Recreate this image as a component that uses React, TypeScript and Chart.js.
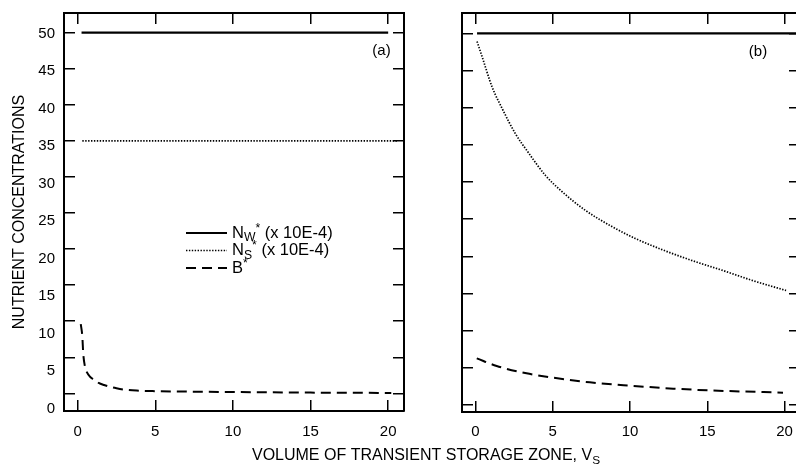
import React, { useEffect, useRef } from 'react';
import { Chart, registerables } from 'chart.js';

Chart.register(...registerables);

const FONT = '"Liberation Sans", Arial, Helvetica, sans-serif';

// ---- tick values ----
const X_TICKS = [0, 5, 10, 15, 20];
const Y_TICKS = [0, 5, 10, 15, 20, 25, 30, 35, 40, 45, 50];

// ---- series names ----
const SERIES = ['Nw* (x 10E-4)', 'Ns* (x 10E-4)', 'B*'];

// ---- panel (a) ----
const VS_A_NW = [0.25, 20.0];
const NW_A = [50, 50];
const VS_A_NS = [0.3, 20.6];
const NS_A = [35, 35];
const VS_A_B = [0.2, 0.3, 0.36, 0.47, 0.6, 0.8, 1.0, 1.35, 1.7, 2.0, 2.5, 3.0, 3.8, 5, 7, 10, 15, 20.2];
const B_A = [9.6, 7.9, 5.5, 3.7, 2.9, 2.3, 1.95, 1.45, 1.15, 0.95, 0.7, 0.52, 0.38, 0.3, 0.24, 0.18, 0.1, 0.05];

// ---- panel (b) ----
const VS_B_NW = [0.1, 21];
const NW_B = [50, 50];
const VS_B_NS = [0.1, 0.42, 1.07, 1.72, 2.58, 3.44, 4.52, 5.6, 7.1, 8.83, 10.34, 12.07, 14.2, 16.0, 18.0, 20.1];
const NS_B = [48.9, 46.9, 42.8, 39.9, 36.5, 33.9, 30.9, 28.7, 26.2, 24.0, 22.4, 20.9, 19.3, 18.1, 16.7, 15.4];
const VS_B_B = [0.08, 1.37, 3.3, 5.0, 7.4, 10.0, 12.8, 15.0, 19.9];
const B_B = [6.28, 5.25, 4.26, 3.68, 3.05, 2.6, 2.2, 1.98, 1.66];

// ---- texts ----
const Y_TITLE = 'NUTRIENT CONCENTRATIONS';
const X_TITLE: [string, string][] = [['VOLUME OF TRANSIENT STORAGE ZONE, V', ''], ['S', 'sub']];
const LEGEND_ITEMS: [string, string][][] = [
  [['N', ''], ['W', 'sub'], ['*', 'sup'], [' (x 10E-4)', '']],
  [['N', ''], ['S', 'sub'], ['*', 'sup'], [' (x 10E-4)', '']],
  [['B', ''], ['*', 'sup']],
];

// ---- axis ranges ----
const XA = [-0.88, 21.02];
const YA = [-2.45, 52.73];
const YA_LABELS = [-0.333, 52.733];
const XB = [-0.874, 21.0];
const YB = [-0.94, 52.73];

const pts = (xs: number[], ys: number[]) => xs.map((x, i) => ({ x, y: ys[i] }));

const STYLE_SOLID = { borderColor: '#000', borderWidth: 2.2, borderDash: [] as number[] };
const STYLE_DOT = { borderColor: '#000', borderWidth: 1.7, borderDash: [1.4, 1.5] };
const STYLE_DASH = { borderColor: '#000', borderWidth: 2, borderDash: [10, 6] };

function ds(label: string, xs: number[], ys: number[], style: any) {
  return {
    label,
    data: pts(xs, ys),
    ...style,
    pointRadius: 0,
    fill: false,
    cubicInterpolationMode: 'monotone',
    xAxisID: 'x',
    yAxisID: 'y',
  };
}

const fixSize = (size: number) => (s: any) => {
  if (s.isHorizontal()) s.height = size;
  else s.width = size;
  s.paddingTop = 0;
  s.paddingBottom = 0;
  s.paddingLeft = 0;
  s.paddingRight = 0;
};
const setTicks = (vals: number[]) => (s: any) => {
  s.ticks = vals.map((v) => ({ value: v }));
};

function frameAxis(position: string, range: number[], ticks: number[], size: number, showLabels: boolean, pad: number, weight = 0) {
  return {
    type: 'linear',
    position,
    weight,
    min: range[0],
    max: range[1],
    afterBuildTicks: setTicks(ticks),
    afterFit: fixSize(size),
    grid: { display: true, drawOnChartArea: false, drawTicks: true, tickLength: -11, color: '#000', lineWidth: 1.5 },
    border: { display: true, color: '#000', width: 2 },
    ticks: { display: showLabels, padding: pad, color: '#000', font: { size: 15, family: FONT }, maxRotation: 0, autoSkip: false },
  };
}

function drawRich(ctx: CanvasRenderingContext2D, x: number, y: number, parts: [string, string][], size: number, measureOnly = false) {
  let cx = x;
  for (const [t, kind] of parts) {
    const fs = kind ? size * 0.74 : size;
    ctx.font = `${fs}px ${FONT}`;
    const dy = kind === 'sub' ? size * 0.3 : kind === 'sup' ? -size * 0.28 : 0;
    if (!measureOnly) ctx.fillText(t, cx, y + dy);
    cx += ctx.measureText(t).width;
  }
  return cx - x;
}

const legendPlugin = {
  id: 'richLegend',
  afterDatasetsDraw(chart: any) {
    const ctx: CanvasRenderingContext2D = chart.ctx;
    const x0 = 186, y0 = 233, len = 41, gap = 5, rowH = 17.5, size = 16.5;
    ctx.save();
    LEGEND_ITEMS.forEach((parts, i) => {
      const d = chart.data.datasets[i];
      const y = y0 + i * rowH;
      ctx.beginPath();
      ctx.setLineDash(d.borderDash || []);
      ctx.lineWidth = d.borderWidth;
      ctx.strokeStyle = d.borderColor;
      ctx.moveTo(x0, y);
      ctx.lineTo(x0 + len, y);
      ctx.stroke();
      ctx.setLineDash([]);
      ctx.fillStyle = '#000';
      ctx.textAlign = 'left';
      ctx.textBaseline = 'middle';
      drawRich(ctx, x0 + len + gap, y, parts, size);
    });
    ctx.restore();
  },
};

const xTitlePlugin = {
  id: 'xTitle',
  afterDraw(chart: any) {
    const ctx: CanvasRenderingContext2D = chart.ctx;
    const size = 16;
    ctx.save();
    ctx.fillStyle = '#000';
    ctx.textAlign = 'left';
    ctx.textBaseline = 'middle';
    const w = drawRich(ctx, 0, 0, X_TITLE, size, true);
    drawRich(ctx, 426 - w / 2, 456, X_TITLE, size);
    ctx.restore();
  },
};

const panelLabel = (text: string, xv: number, yv: number) => ({
  id: 'panelLabel',
  afterDatasetsDraw(chart: any) {
    const ctx: CanvasRenderingContext2D = chart.ctx;
    ctx.save();
    ctx.font = `15px ${FONT}`;
    ctx.fillStyle = '#000';
    ctx.textAlign = 'center';
    ctx.textBaseline = 'middle';
    ctx.fillText(text, chart.scales.x.getPixelForValue(xv), chart.scales.y.getPixelForValue(yv));
    ctx.restore();
  },
});

const baseOptions = {
  responsive: false,
  maintainAspectRatio: false,
  devicePixelRatio: 1,
  animation: false,
  layout: { padding: 0 },
  plugins: { legend: { display: false }, tooltip: { enabled: false }, title: { display: false } },
};

function configA(): any {
  return {
    type: 'line',
    data: {
      datasets: [
        ds(SERIES[0], VS_A_NW, NW_A, STYLE_SOLID),
        ds(SERIES[1], VS_A_NS, NS_A, STYLE_DOT),
        ds(SERIES[2], VS_A_B, B_A, STYLE_DASH),
      ],
    },
    options: {
      ...baseOptions,
      scales: {
        x: frameAxis('bottom', XA, X_TICKS, 53, true, 23.2),
        x2: frameAxis('top', XA, X_TICKS, 13, false, 0),
        y: frameAxis('left', YA, Y_TICKS, 0, false, 0, 0),
        yl: {
          type: 'linear',
          position: 'left',
          weight: 1,
          min: YA_LABELS[0],
          max: YA_LABELS[1],
          afterBuildTicks: setTicks(Y_TICKS),
          afterFit: fixSize(64),
          grid: { display: false, drawTicks: false },
          border: { display: false },
          ticks: { padding: 9, color: '#000', font: { size: 15, family: FONT } },
          title: { display: true, text: Y_TITLE, color: '#000', font: { size: 16, family: FONT }, padding: { top: 10.4, bottom: 0 } },
        },
        y2: frameAxis('right', YA, Y_TICKS, 392, false, 0),
      },
    },
    plugins: [legendPlugin, xTitlePlugin, panelLabel('(a)', 19.57, 47.46)],
  };
}

function configB(): any {
  return {
    type: 'line',
    data: {
      datasets: [
        ds(SERIES[0], VS_B_NW, NW_B, STYLE_SOLID),
        ds(SERIES[1], VS_B_NS, NS_B, STYLE_DOT),
        ds(SERIES[2], VS_B_B, B_B, STYLE_DASH),
      ],
    },
    options: {
      ...baseOptions,
      scales: {
        x: frameAxis('bottom', XB, X_TICKS, 52, true, 22.2),
        x2: frameAxis('top', XB, X_TICKS, 13, false, 0),
        y: frameAxis('left', YB, Y_TICKS, 22, false, 0),
        y2: frameAxis('right', YB, Y_TICKS, 20, false, 0),
      },
    },
    plugins: [panelLabel('(b)', 18.28, 47.5)],
  };
}

export default function App() {
  const refA = useRef<HTMLCanvasElement>(null);
  const refB = useRef<HTMLCanvasElement>(null);

  useEffect(() => {
    Chart.defaults.font.family = FONT;
    Chart.defaults.color = '#000';
    const a = new Chart(refA.current as HTMLCanvasElement, configA());
    const b = new Chart(refB.current as HTMLCanvasElement, configB());
    return () => {
      a.destroy();
      b.destroy();
    };
  }, []);

  return (
    <div style={{ position: 'fixed', left: 0, top: 0, width: 796, height: 464, overflow: 'hidden', background: '#fff' }}>
      <canvas ref={refA} width={796} height={464} style={{ position: 'absolute', left: 0, top: 0, width: 796, height: 464 }} />
      <canvas ref={refB} width={380} height={464} style={{ position: 'absolute', left: 440, top: 0, width: 380, height: 464 }} />
    </div>
  );
}
